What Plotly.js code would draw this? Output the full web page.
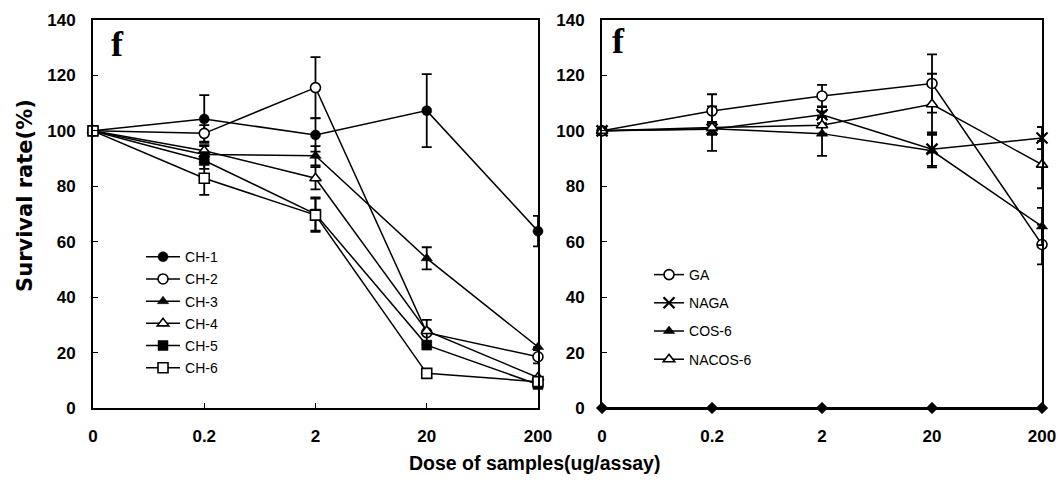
<!DOCTYPE html>
<html>
<head>
<meta charset="utf-8">
<script src="https://cdn.plot.ly/plotly-3.0.1.min.js"></script>
<style>html,body{margin:0;padding:0;background:#fff;}#chart{width:1061px;height:484px;}</style>
</head>
<body>
<div id="chart"></div>
<script>
// Categories (dose, ug/assay)
const doses = ['0', '0.2', '2', '20', '200'];
const yTicks = [0, 20, 40, 60, 80, 100, 120, 140];

// Left panel series
const ch1 = [100, 104.3, 98.5, 107.3, 63.8];
const ch1Err = [0, 8.6, 6, 13.2, 5.5];
const ch2 = [100, 99.1, 115.6, 27.2, 18.5];
const ch2Err = [0, 3, 11, 0, 2.4];
const ch3 = [100, 91.5, 91, 54, 22];
const ch3Err = [0, 3, 3.5, 4, 0];
const ch4 = [100, 92.8, 82.9, 27.8, 11];
const ch4Err = [0, 2, 4, 4, 0];
const ch5 = [100, 89.3, 70, 22.7, 8.5];
const ch5Err = [0, 3, 6, 0, 0];
const ch6 = [100, 82.9, 69.6, 12.5, 9.5];
const ch6Err = [0, 6, 6, 0, 0];

// Right panel series
const ga = [100, 107.2, 112.6, 117.1, 59];
const gaErr = [0, 6, 4, 10.5, 7.2];
const naga = [100, 100.6, 105.8, 93.4, 97.4];
const nagaErr = [0, 2, 3, 6, 4];
const cos6 = [100, 100.8, 99, 92.8, 65.5];
const cos6Err = [0, 8, 8, 6, 6.7];
const nacos6 = [100, 101.2, 102, 109.6, 87.8];
const nacos6Err = [0, 2, 3, 11, 8.5];
const blank = [0, 0, 0, 0, 0];

function tr(name, y, err, symbol, open, xa, ya, leg) {
  return {
    type: 'scatter', mode: 'lines+markers', name: name,
    x: doses, y: y, xaxis: xa, yaxis: ya, legend: leg, legendgroup: name,
    cliponaxis: false,
    line: {color: '#000', width: 1.5},
    marker: {symbol: symbol, size: 10, color: open ? '#fff' : '#000', line: {color: '#000', width: open ? 1.6 : 0.5}},
    error_y: err ? {type: 'data', array: err, visible: true, color: '#000', thickness: 1.8, width: 5} : undefined
  };
}

const data = [
  tr('CH-1', ch1, ch1Err, 'circle', false, 'x', 'y', 'legend'),
  tr('CH-2', ch2, ch2Err, 'circle', true, 'x', 'y', 'legend'),
  tr('CH-3', ch3, ch3Err, 'triangle-up', false, 'x', 'y', 'legend'),
  tr('CH-4', ch4, ch4Err, 'triangle-up', true, 'x', 'y', 'legend'),
  tr('CH-5', ch5, ch5Err, 'square', false, 'x', 'y', 'legend'),
  tr('CH-6', ch6, ch6Err, 'square', true, 'x', 'y', 'legend'),
  tr('GA', ga, gaErr, 'circle', true, 'x2', 'y2', 'legend2'),
  tr('NAGA', naga, nagaErr, 'x-thin', false, 'x2', 'y2', 'legend2'),
  tr('COS-6', cos6, cos6Err, 'triangle-up', false, 'x2', 'y2', 'legend2'),
  tr('NACOS-6', nacos6, nacos6Err, 'triangle-up', true, 'x2', 'y2', 'legend2'),
  tr('blank', blank, null, 'diamond', false, 'x2', 'y2', 'legend2')
];
data[7].marker.line = {color: '#000', width: 2.2};
data[7].marker.size = 11;
data[10].showlegend = false;
data[10].line.width = 2;
data[10].marker.size = 9;

const tickFont = {family: 'Liberation Sans, Arial, sans-serif', size: 17, color: '#000', weight: 'bold'};
function xax(domain, anchor) {
  return {domain: domain, anchor: anchor, type: 'category', categoryorder: 'array', categoryarray: doses,
    range: [0, 4], showline: true, linecolor: '#000', linewidth: 2, mirror: true,
    ticks: 'inside', ticklen: 5, tickwidth: 1, tickcolor: '#000', showgrid: false, zeroline: false,
    tickfont: tickFont, ticklabelstandoff: 12};
}
function yax(anchor) {
  return {domain: [0, 1], anchor: anchor, range: [0, 140], tickvals: yTicks,
    showline: true, linecolor: '#000', linewidth: 2, mirror: true,
    ticks: 'inside', ticklen: 5, tickwidth: 1, tickcolor: '#000', showgrid: false, zeroline: false,
    tickfont: tickFont, ticklabelstandoff: 12};
}

const legFont = {family: 'Liberation Sans, Arial, sans-serif', size: 14, color: '#000'};
const layout = {
  width: 1061, height: 484,
  margin: {l: 93, r: 19, t: 20, b: 76},
  paper_bgcolor: '#fff', plot_bgcolor: '#fff',
  xaxis: xax([0, 0.4689], 'y'),
  yaxis: yax('x'),
  xaxis2: xax([0.5364, 1], 'y2'),
  yaxis2: yax('x2'),
  legend: {x: 0.0506, y: 0.430, xanchor: 'left', yanchor: 'top', bgcolor: 'rgba(0,0,0,0)',
    font: legFont, tracegroupgap: 1, itemwidth: 34},
  legend2: {x: 0.5859, y: 0.384, xanchor: 'left', yanchor: 'top', bgcolor: 'rgba(0,0,0,0)',
    font: legFont, tracegroupgap: 7, itemwidth: 30},
  annotations: [
    {text: 'f', xref: 'paper', yref: 'paper', x: 0.0168, y: 0.995, showarrow: false,
      font: {family: 'Liberation Serif, Times New Roman, serif', size: 36, color: '#000', weight: 'bold'}},
    {text: 'f', xref: 'paper', yref: 'paper', x: 0.5540, y: 1.003, showarrow: false,
      font: {family: 'Liberation Serif, Times New Roman, serif', size: 36, color: '#000', weight: 'bold'}},
    {text: 'Dose of samples(ug/assay)', xref: 'paper', yref: 'paper', x: 0.4657, y: -0.1418,
      xanchor: 'center', yanchor: 'middle', showarrow: false,
      font: {family: 'Liberation Sans, Arial, sans-serif', size: 19.5, color: '#000', weight: 'bold'}},
    {text: 'Survival rate(%)', xref: 'paper', yref: 'paper', x: -0.0717, y: 0.549, textangle: -90,
      xanchor: 'center', yanchor: 'middle', showarrow: false,
      font: {family: 'DejaVu Sans, sans-serif', size: 21, color: '#000', weight: 'bold'}}
  ]
};

Plotly.newPlot('chart', data, layout, {displayModeBar: false, staticPlot: true});
</script>
</body>
</html>
